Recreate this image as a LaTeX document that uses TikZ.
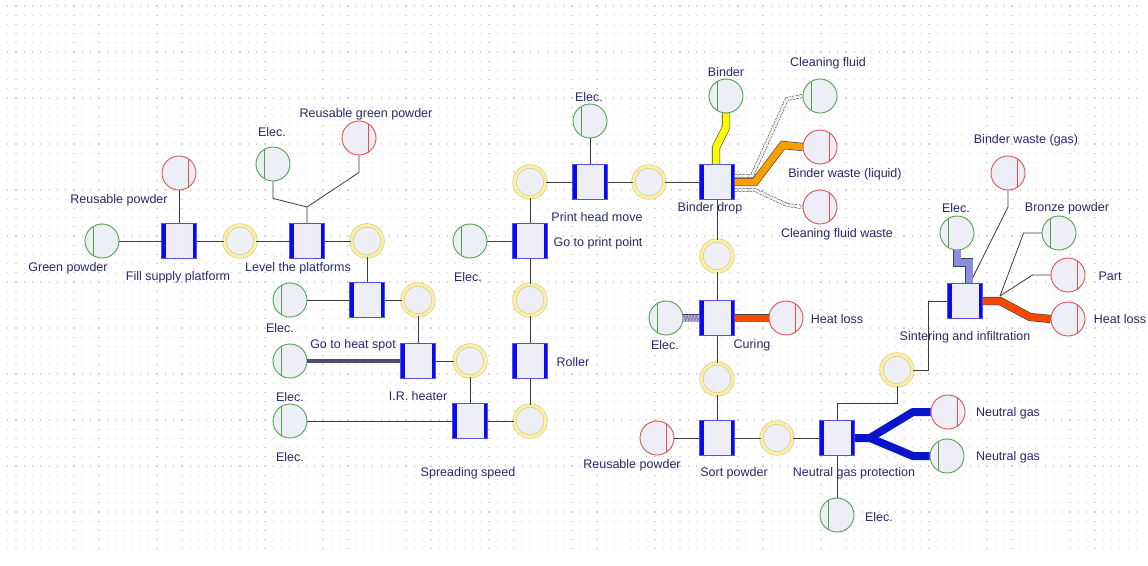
\documentclass[tikz,border=0pt]{standalone}
\usepackage{fontspec}
\setmainfont{Liberation Sans}
\usepackage{tikz}
\usetikzlibrary{decorations.pathmorphing}
\definecolor{labelblue}{RGB}{40,40,110}
\definecolor{procblue}{RGB}{10,10,240}
\definecolor{procedge}{RGB}{80,80,230}
\definecolor{boxfill}{RGB}{238,238,246}
\definecolor{ingreen}{RGB}{80,160,80}
\definecolor{outred}{RGB}{225,80,80}
\definecolor{ringdark}{RGB}{215,200,110}
\definecolor{ringlight}{RGB}{248,240,170}
\definecolor{wiregray}{RGB}{60,60,60}
\definecolor{heavygray}{RGB}{75,75,115}
\definecolor{binderyellow}{RGB}{250,250,0}
\definecolor{wasteorange}{RGB}{245,160,0}
\definecolor{heatred}{RGB}{250,70,0}
\definecolor{gasblue}{RGB}{10,20,200}
\definecolor{elecpurple}{RGB}{140,140,225}

\begin{document}
\begin{tikzpicture}[x=1pt,y=-1pt,
		every node/.style={font=\fontsize{12.5}{14}\selectfont, text=labelblue},
		proc/.style={rectangle, draw=procedge, line width=0.8pt, fill=boxfill, minimum width=35pt, minimum height=35pt, inner sep=0pt,
			path picture={\fill[procblue] (path picture bounding box.north west) rectangle ([xshift=4pt]path picture bounding box.south west);
				\fill[procblue] ([xshift=-4pt]path picture bounding box.north east) rectangle (path picture bounding box.south east);}},
		state/.style={circle, draw=ringdark, line width=0.6pt, double=ringlight, double distance=3pt, fill=boxfill, minimum size=31pt, inner sep=0pt},
		inflow/.style={circle, draw=ingreen, line width=0.9pt, fill=boxfill, minimum size=34pt, inner sep=0pt,
			path picture={\draw[ingreen, line width=0.9pt] ([xshift=-8.5pt]path picture bounding box.north) -- ([xshift=-8.5pt]path picture bounding box.south);}},
		outflow/.style={circle, draw=outred, line width=0.9pt, fill=boxfill, minimum size=34pt, inner sep=0pt,
			path picture={\draw[outred, line width=0.9pt] ([xshift=9pt]path picture bounding box.north) -- ([xshift=9pt]path picture bounding box.south);}},
		wire/.style={draw=wiregray, line width=0.8pt},
		heavy/.style={draw=heavygray, line width=3.5pt},
		flow/.style={draw=black!75, line width=0.6pt, double=#1, double distance=7pt, line join=miter},
		dashflow/.style={draw=black!70, line width=0.6pt, double=white, double distance=2.6pt, dash pattern=on 2.5pt off 1.2pt},
		gas/.style={draw=gasblue, line width=8pt, line join=round},
		griddot/.style={gray!35, line width=1.2pt, dash pattern=on 1.2pt off 7.1pt}]
		\useasboundingbox (0,0) rectangle (1148,565);
		\fill[white] (0,0) rectangle (1148,565);
		\foreach \y in {6,15.2,...,556}
			\draw[griddot] (7,\y) -- (1142,\y);

		% processes
		\node[proc] (fill) at (179,241) {};
		\node[proc] (level) at (307,241) {};
		\node[proc] (goheat) at (367,300) {};
		\node[proc] (irh) at (418,361) {};
		\node[proc] (spread) at (470,421) {};
		\node[proc] (roller) at (530,361) {};
		\node[proc] (gpp) at (530,241) {};
		\node[proc] (phm) at (590,182) {};
		\node[proc] (bdrop) at (717,182) {};
		\node[proc] (curing) at (717,318) {};
		\node[proc] (sort) at (717,438) {};
		\node[proc] (ngp) at (837,438) {};
		\node[proc] (sint) at (965,301) {};

		% intermediate states
		\node[state] (s1) at (240,241) {};
		\node[state] (s2) at (367,241) {};
		\node[state] (s3) at (418,300) {};
		\node[state] (s4) at (470,361) {};
		\node[state] (s5) at (530,421) {};
		\node[state] (s6) at (530,300) {};
		\node[state] (s7) at (530,182) {};
		\node[state] (s8) at (649,182) {};
		\node[state] (s9) at (717,256) {};
		\node[state] (s10) at (717,379) {};
		\node[state] (s11) at (777,438) {};
		\node[state] (s12) at (897,370) {};

		% inputs and outputs
		\node[inflow] (gpow) at (102,241) {};
		\node[outflow] (rpow1) at (179,173) {};
		\node[inflow] (e1) at (273,164) {};
		\node[outflow] (rgp) at (359,138) {};
		\node[inflow] (e2) at (290,300) {};
		\node[inflow] (e3) at (290,361) {};
		\node[inflow] (e4) at (290,421) {};
		\node[inflow] (e5) at (470,241) {};
		\node[inflow] (e6) at (590,121) {};
		\node[inflow] (binder) at (726,96) {};
		\node[inflow] (cfl) at (820,96) {};
		\node[outflow] (bwl) at (820,147) {};
		\node[outflow] (cfw) at (820,207) {};
		\node[inflow] (e7) at (666,318) {};
		\node[outflow] (hl1) at (786,318) {};
		\node[outflow] (rpow2) at (657,438) {};
		\node[inflow] (e8) at (837,515) {};
		\node[inflow] (e9) at (957,233) {};
		\node[outflow] (bwg) at (1008,173) {};
		\node[inflow] (bronze) at (1059,233) {};
		\node[outflow] (part) at (1068,275) {};
		\node[outflow] (hl2) at (1068,319) {};
		\node[outflow] (ng1) at (948,412) {};
		\node[inflow] (ng2) at (947,456) {};

		% labels
		\node (tGpow) at (68,268) {Green powder};
		\node (tRpow1) at (119,200) {Reusable powder};
		\node (tFill) at (178,277) {Fill supply platform};
		\node (tLevel) at (298,268) {Level the platforms};
		\node (tE1) at (272,132) {Elec.};
		\node (tRgp) at (366,114) {Reusable green powder};
		\node (tE2) at (280,328) {Elec.};
		\node (tGoheat) at (353,345) {Go to heat spot};
		\node (tE3) at (290,397) {Elec.};
		\node (tIrh) at (418,396) {I.R. heater};
		\node (tE4) at (290,457) {Elec.};
		\node (tSpread) at (468,473) {Spreading speed};
		\node (tRoller) at (573,362) {Roller};
		\node (tGpp) at (598,243) {Go to print point};
		\node (tE5) at (468,277) {Elec.};
		\node (tPhm) at (597,217) {Print head move};
		\node (tE6) at (589,97) {Elec.};
		\node (tBdrop) at (710,208) {Binder drop};
		\node (tBinder) at (726,72) {Binder};
		\node (tCfl) at (828,63) {Cleaning fluid};
		\node (tBwl) at (845,174) {Binder waste (liquid)};
		\node (tCfw) at (837,234) {Cleaning fluid waste};
		\node (tCuring) at (752,345) {Curing};
		\node (tE7) at (665,345) {Elec.};
		\node (tHl1) at (837,319) {Heat loss};
		\node (tSort) at (734,473) {Sort powder};
		\node (tRpow2) at (632,465) {Reusable powder};
		\node (tNgp) at (854,473) {Neutral gas protection};
		\node (tE8) at (879,517) {Elec.};
		\node (tSint) at (965,337) {Sintering and infiltration};
		\node (tE9) at (956,208) {Elec.};
		\node (tBwg) at (1026,140) {Binder waste (gas)};
		\node (tBronze) at (1067,208) {Bronze powder};
		\node (tPart) at (1110,276) {Part};
		\node (tHl2) at (1120,319) {Heat loss};
		\node (tNg1) at (1008,413) {Neutral gas};
		\node (tNg2) at (1008,457) {Neutral gas};

		% plain connections
		\coordinate (jLevel) at (307,207);
		\coordinate (jBwg) at (1008,207);
		\coordinate (jOut) at (1000,296);
		\draw[wire] (gpow) -- (fill);
		\draw[wire] (rpow1) -- (fill);
		\draw[wire] (fill) -- (s1) -- (level) -- (s2) -- (goheat);
		\draw[wire] (e1.south) -- ++(0,17) -- (jLevel) -- (level);
		\draw[wire] (rgp.south) -- ++(0,17) -- (jLevel);
		\draw[wire] (e2) -- (goheat) -- (s3) -- (irh) -- (s4) -- (spread);
		\draw[heavy] (e3) -- (irh);
		\draw[wire] (e4) -- (spread) -- (s5) -- (roller) -- (s6) -- (gpp) -- (s7) -- (phm) -- (s8) -- (bdrop);
		\draw[wire] (e5) -- (gpp);
		\draw[wire] (e6) -- (phm);
		\draw[wire] (bdrop) -- (s9) -- (curing) -- (s10) -- (sort) -- (s11) -- (ngp) -- (e8);
		\draw[wire] (rpow2) -- (sort);
		\draw[wire] (ngp.north) -- ++(0,-17) -| (s12.south);
		\draw[wire] (s12.east) -- ++(16,0) |- (sint.west);
		\draw[wire] (bwg.south) -- (jBwg) -- ([xshift=5pt]sint.north);
		\draw[wire] (bronze.west) -- ++(-18,0) -- (jOut);
		\draw[wire] (part.west) -- ++(-18,0) -- (jOut);

		% material and energy flows
		\draw[flow=binderyellow] (binder.south) -- ++(0,14) -- ++(-10,20) -- ([xshift=-1pt]bdrop.north);
		\draw[dashflow] ([yshift=6pt]bdrop.east) -- ++(17,0) -- ++(35,-77) -- (cfl.west);
		\draw[flow=wasteorange] (bdrop.east) -- ++(20,0) -- ++(28,-37) -- (bwl.west);
		\draw[dashflow] ([yshift=-8pt]bdrop.east) -- ++(20,0) -- ++(32,15) -- (cfw.west);
		\draw[flow=elecpurple!70] (e7) -- (curing);
		\draw[black!60, decorate, decoration={zigzag, segment length=3pt, amplitude=3pt}] (e7.east) -- (curing.west);
		\draw[flow=heatred] (curing) -- (hl1);
		\draw[gas] (ngp.east) -- ++(15,0) coordinate (jGas) -- ++(43,-26) -- (ng1.west);
		\draw[gas] (jGas) -- ++(43,18) -- (ng2.west);
		\draw[flow=elecpurple] (e9.south) -- ++(0,12) -- ++(12,0) -- ([xshift=4pt]sint.north);
		\draw[flow=heatred] (sint.east) -- ++(17,0) -- ++(30,16) -- (hl2.west);
\end{tikzpicture}
\end{document}
